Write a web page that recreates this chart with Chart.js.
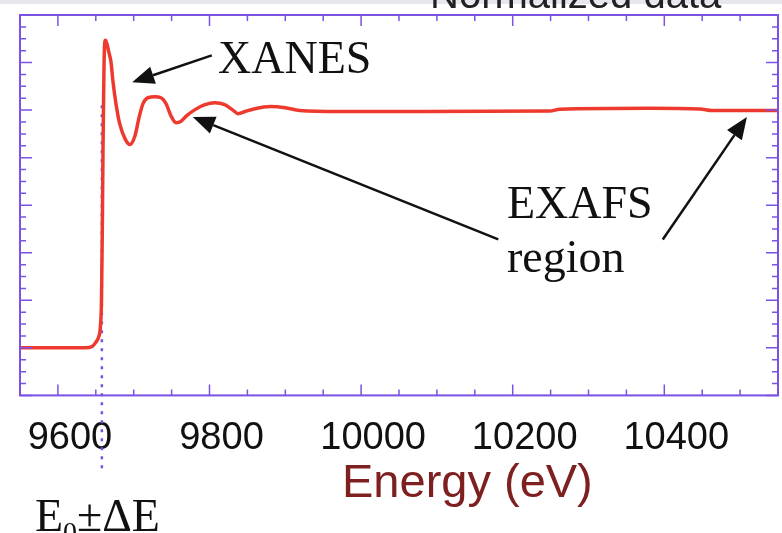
<!DOCTYPE html>
<html>
<head>
<meta charset="utf-8">
<script src="https://cdn.jsdelivr.net/npm/chart.js@4.4.1/dist/chart.umd.min.js"></script>
<style>
html, body { margin: 0; padding: 0; background: #fff; }
#wrap { width: 782px; height: 533px; position: relative; }
</style>
</head>
<body>
<div id="wrap"><canvas id="xas"></canvas></div>
<script>
// normalized absorption
const energy = [9550, 9603, 9636, 9645, 9650, 9654, 9656, 9657.5, 9658.6, 9659.5, 9660.6, 9661.5, 9662.8,
    9664.8, 9667.4, 9670, 9672.7, 9676.6, 9681.5, 9688.5, 9695, 9701.7, 9707, 9712.3, 9719, 9728, 9736,
    9742.6, 9749, 9756, 9762, 9770, 9781, 9794, 9807, 9820, 9830, 9838, 9847, 9860, 9880, 9900, 9919,
    9972, 10051, 10249, 10262, 10381, 10447, 10463, 10550]
const mu = [0, 0, 0, 0.006, 0.023, 0.048, 0.086, 0.2, 0.5, 0.83, 1.13, 1.27, 1.294,
    1.277, 1.241, 1.203, 1.119, 1.027, 0.943, 0.88, 0.855, 0.892, 0.968, 1.027, 1.052, 1.056, 1.052,
    1.027, 0.977, 0.947, 0.952, 0.977, 1.002, 1.023, 1.031, 1.023, 1.002, 0.985, 0.994, 1.006, 1.015, 1.01, 0.998,
    0.994, 0.994, 0.996, 1.004, 1.008, 1.005, 0.998, 0.998]

const xTicks = [9600, 9800, 10000, 10200, 10400]
const yMajor = [-0.2, 0, 0.2, 0.4, 0.6, 0.8, 1.0, 1.2, 1.4]
const e0 = 9658

// annotations in data units: [fromE, fromMu, tipE, tipMu]
const arrows = [
    [9803, 1.23, 9698, 1.117],
    [10181, 0.456, 9778, 0.971],
    [10398, 0.456, 10509, 0.971]
]

const axisColor = '#7b52e3'

function arrow(ctx, x1, y1, x2, y2) {
    const ang = Math.atan2(y2 - y1, x2 - x1)
    const len = 22, half = 9
    const bx = x2 - len * Math.cos(ang), by = y2 - len * Math.sin(ang)
    ctx.beginPath()
    ctx.moveTo(x1, y1)
    ctx.lineTo(bx, by)
    ctx.stroke()
    ctx.beginPath()
    ctx.moveTo(x2, y2)
    ctx.lineTo(bx + half * Math.sin(ang), by - half * Math.cos(ang))
    ctx.lineTo(bx - half * Math.sin(ang), by + half * Math.cos(ang))
    ctx.closePath()
    ctx.fill()
}

const edgeLine = {
    id: 'edgeLine',
    beforeDatasetsDraw(chart) {
        const {ctx, scales: {x, y}} = chart
        ctx.save()
        ctx.strokeStyle = '#6a5ae0'
        ctx.lineWidth = 2.5
        ctx.setLineDash([3, 6])
        ctx.beginPath()
        ctx.moveTo(x.getPixelForValue(e0), y.getPixelForValue(1.02))
        ctx.lineTo(x.getPixelForValue(e0), y.getPixelForValue(-0.52))
        ctx.stroke()
        ctx.restore()
    }
}

const frame = {
    id: 'frame',
    afterDatasetsDraw(chart) {
        const {ctx, chartArea: a, scales: {x, y}} = chart
        ctx.save()
        ctx.strokeStyle = axisColor
        ctx.lineWidth = 2
        ctx.strokeRect(a.left, a.top, a.right - a.left, a.bottom - a.top)
        ctx.lineWidth = 1.5
        ctx.beginPath()
        for (let v = 9550; v <= 10550; v += 50) {
            const px = x.getPixelForValue(v)
            const l = xTicks.includes(v) ? 11 : 6
            ctx.moveTo(px, a.bottom); ctx.lineTo(px, a.bottom - l)
            ctx.moveTo(px, a.top); ctx.lineTo(px, a.top + l)
        }
        for (let i = 0; i < yMajor.length; i++) {
            for (let k = 0; k < 4; k++) {
                if (i == yMajor.length - 1 && k > 0) break
                const v = yMajor[i] + k * 0.05
                const py = y.getPixelForValue(v)
                const l = k == 0 ? 12 : 6
                ctx.moveTo(a.left, py); ctx.lineTo(a.left + l, py)
                ctx.moveTo(a.right, py); ctx.lineTo(a.right - l, py)
            }
        }
        ctx.stroke()
        ctx.restore()
    },
    afterDraw(chart) {
        const {ctx, scales: {x, y}} = chart
        ctx.save()
        // strip and cut-off title at the top
        ctx.fillStyle = '#e6e8ed'
        ctx.fillRect(0, 0, 782, 4)
        ctx.fillStyle = '#222'
        ctx.font = '40px "Liberation Sans"'
        ctx.textBaseline = 'alphabetic'
        ctx.fillText('Normalized data', 430, 8)

        // axis title sits right of centre in the original
        ctx.fillStyle = '#7f2020'
        ctx.font = '47px "Liberation Sans"'
        ctx.fillText('Energy (eV)', 342, 497)

        ctx.fillStyle = '#111'
        ctx.strokeStyle = '#111'
        ctx.lineWidth = 2.5
        arrows.forEach(([e1, m1, e2, m2]) => {
            arrow(ctx, x.getPixelForValue(e1), y.getPixelForValue(m1), x.getPixelForValue(e2), y.getPixelForValue(m2))
        })

        ctx.font = '46px "Liberation Serif"'
        ctx.fillText('XANES', 218, 73)
        ctx.fillText('EXAFS', 507, 218)
        ctx.fillText('region', 507, 272)

        ctx.fillText('E', 35, 531)
        ctx.font = '28px "Liberation Serif"'
        ctx.fillText('0', 63, 541)
        ctx.font = '46px "Liberation Serif"'
        ctx.fillText('\u00b1\u0394E', 77, 531)
        ctx.restore()
    }
}

new Chart(document.getElementById('xas'), {
    type: 'line',
    data: {
        datasets: [{
            data: energy.map((e, i) => ({x: e, y: mu[i]})),
            borderColor: '#ee3a2e',
            borderWidth: 3.5,
            pointRadius: 0,
            cubicInterpolationMode: 'monotone',
            fill: false
        }]
    },
    options: {
        responsive: true,
        maintainAspectRatio: false,
        animation: false,
        devicePixelRatio: 1,
        layout: {padding: {left: 20, top: 15, right: 4, bottom: 52}},
        plugins: {legend: {display: false}, tooltip: {enabled: false}},
        scales: {
            x: {
                type: 'linear',
                min: 9550,
                max: 10550,
                afterBuildTicks: (s) => { s.ticks = xTicks.map(v => ({value: v})) },
                afterFit: (s) => { s.paddingLeft = 0; s.paddingRight = 0 },
                grid: {display: false, drawTicks: false},
                border: {display: false},
                ticks: {
                    color: '#111',
                    font: {family: '"Liberation Sans"', size: 38},
                    padding: 20,
                    labelOffset: 12,
                    maxRotation: 0,
                    autoSkip: false,
                    callback: (v) => String(v)
                }
            },
            y: {
                display: false,
                min: -0.2,
                max: 1.4
            }
        }
    },
    plugins: [edgeLine, frame]
})
</script>
</body>
</html>
